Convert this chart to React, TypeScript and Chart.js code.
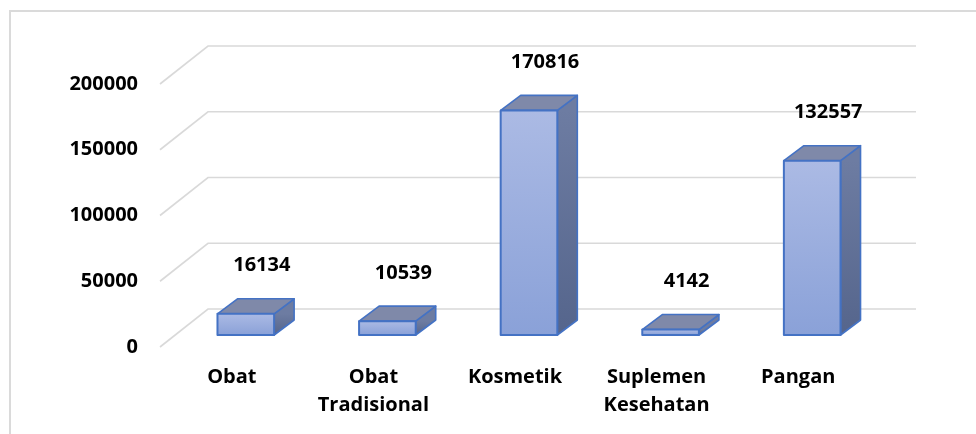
import React, { useEffect, useRef } from "react";
import { Chart, registerables } from "chart.js";

Chart.register(...registerables);

const categories: (string | string[])[] = [
  "Obat",
  ["Obat", "Tradisional"],
  "Kosmetik",
  ["Suplemen", "Kesehatan"],
  "Pangan",
];
const values: number[] = [16134, 10539, 170816, 4142, 132557];
const yTicks: number[] = [0, 50000, 100000, 150000, 200000];

const FONT = "'Open Sans', 'Liberation Sans', sans-serif";
const DX = 20; // bar depth offset
const DY = -15;
const BACK_DX = 33; // back wall offset from bar plane
const BACK_DY = -26;
const FRONT_DX = -15; // front edge offset from bar plane
const FRONT_DY = 12;

const threeD = {
  id: "threeD",
  beforeDraw(chart: any) {
    const ctx = chart.ctx;
    ctx.save();
    ctx.fillStyle = "#ffffff";
    ctx.fillRect(0, 0, chart.width, chart.height);
    ctx.strokeStyle = "#dadada";
    ctx.lineWidth = 2;
    ctx.beginPath();
    ctx.moveTo(10, chart.height + 5);
    ctx.lineTo(10, 11);
    ctx.lineTo(chart.width + 5, 11);
    ctx.stroke();
    ctx.restore();
  },
  beforeDatasetsDraw(chart: any) {
    const ctx = chart.ctx;
    const y = chart.scales.y;
    const area = chart.chartArea;
    ctx.save();
    ctx.strokeStyle = "#d9d9d9";
    ctx.lineWidth = 1.6;
    yTicks.forEach((v) => {
      const py = y.getPixelForValue(v);
      ctx.beginPath();
      ctx.moveTo(area.left + FRONT_DX, py + FRONT_DY);
      ctx.lineTo(area.left + BACK_DX, py + BACK_DY);
      ctx.lineTo(area.right + BACK_DX, py + BACK_DY);
      ctx.stroke();
    });
    ctx.restore();
  },
  afterDatasetsDraw(chart: any) {
    const ctx = chart.ctx;
    const meta = chart.getDatasetMeta(0);
    ctx.save();
    ctx.lineJoin = "round";
    meta.data.forEach((bar: any, i: number) => {
      const w = bar.width;
      const x0 = bar.x - w / 2;
      const x1 = bar.x + w / 2;
      const top = bar.y;
      const bottom = bar.base;

      // side face
      const sg = ctx.createLinearGradient(0, top, 0, bottom);
      sg.addColorStop(0, "#6d7ca2");
      sg.addColorStop(1, "#55658c");
      ctx.beginPath();
      ctx.moveTo(x1, top);
      ctx.lineTo(x1 + DX, top + DY);
      ctx.lineTo(x1 + DX, bottom + DY);
      ctx.lineTo(x1, bottom);
      ctx.closePath();
      ctx.fillStyle = sg;
      ctx.fill();
      ctx.strokeStyle = "#4472c4";
      ctx.lineWidth = 1.6;
      ctx.stroke();

      // top face
      ctx.beginPath();
      ctx.moveTo(x0, top);
      ctx.lineTo(x0 + DX, top + DY);
      ctx.lineTo(x1 + DX, top + DY);
      ctx.lineTo(x1, top);
      ctx.closePath();
      ctx.fillStyle = "#7f89a9";
      ctx.fill();
      ctx.stroke();

      // front face
      const fg = ctx.createLinearGradient(0, top, 0, bottom);
      fg.addColorStop(0, "#abbae4");
      fg.addColorStop(1, "#8aa1d8");
      ctx.beginPath();
      ctx.rect(x0, top, w, bottom - top);
      ctx.fillStyle = fg;
      ctx.fill();
      ctx.lineWidth = 2;
      ctx.stroke();

      // value label
      ctx.fillStyle = "#000000";
      ctx.font = `bold 20px ${FONT}`;
      ctx.textAlign = "center";
      ctx.textBaseline = "middle";
      ctx.fillText(String(values[i]), bar.x + 16, top - 48);
    });
    ctx.restore();
  },
};

export default function App() {
  const ref = useRef<HTMLCanvasElement | null>(null);
  useEffect(() => {
    if (!ref.current) return;
    const chart = new Chart(ref.current, {
      type: "bar",
      data: {
        labels: categories as any,
        datasets: [
          {
            data: values,
            backgroundColor: "rgba(0,0,0,0)",
            borderWidth: 0,
            barPercentage: 0.4,
            categoryPercentage: 1,
          },
        ],
      },
      options: {
        responsive: false,
        animation: false,
        events: [],
        layout: { padding: { top: 72, right: 93, left: 0, bottom: 0 } },
        plugins: { legend: { display: false }, tooltip: { enabled: false } },
        scales: {
          x: {
            grid: { display: false, drawTicks: false },
            border: { display: false },
            ticks: {
              color: "#000000",
              font: { family: FONT, size: 20, weight: "bold", lineHeight: 1.4 },
              padding: 28,
              labelOffset: -14,
              maxRotation: 0,
              autoSkip: false,
            },
            afterFit: (s: any) => {
              s.height = 99;
            },
          },
          y: {
            min: 0,
            max: 200000,
            grid: { display: false, drawTicks: false },
            border: { display: false },
            ticks: {
              stepSize: 50000,
              color: "#000000",
              font: { family: FONT, size: 20, weight: "bold" },
              padding: 37,
              labelOffset: 12,
              callback: (v: any) => String(v),
            },
            afterFit: (s: any) => {
              s.width = 175;
            },
          },
        },
      },
      plugins: [threeD],
    });
    return () => chart.destroy();
  }, []);
  return (
    <div style={{ position: "absolute", left: 0, top: 0, width: 976, height: 434, background: "#fff" }}>
      <canvas ref={ref} width={976} height={434} style={{ display: "block" }} />
    </div>
  );
}
